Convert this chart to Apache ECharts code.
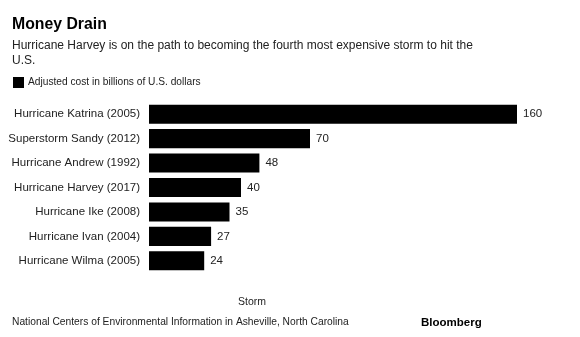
<!DOCTYPE html>
<html>
<head>
<meta charset="utf-8">
<script src="https://cdn.jsdelivr.net/npm/echarts@6/dist/echarts.min.js"></script>
<style>
html,body{margin:0;padding:0;background:#fff;}
#chart{width:580px;height:337px;}
</style>
</head>
<body>
<div id="chart"></div>
<script>
const categories = [
  "Hurricane Katrina (2005)",
  "Superstorm Sandy (2012)",
  "Hurricane Andrew (1992)",
  "Hurricane Harvey (2017)",
  "Hurricane Ike (2008)",
  "Hurricane Ivan (2004)",
  "Hurricane Wilma (2005)"
];
const costs = [160, 70, 48, 40, 35, 27, 24];
const seriesName = "Adjusted cost in billions of U.S. dollars";
const titleText = "Money Drain";
const subtitleText = "Hurricane Harvey is on the path to becoming the fourth most expensive storm to hit the\nU.S.";
const axisName = "Storm";
const sourceText = "National Centers of Environmental Information in Asheville, North Carolina";
const brandText = "Bloomberg";

const FONT = "'Liberation Sans', Arial, Helvetica, sans-serif";
const chart = echarts.init(document.getElementById('chart'), null, {renderer: 'canvas'});
chart.setOption({
  backgroundColor: '#fff',
  animation: false,
  textStyle: {fontFamily: FONT},
  title: [
    {text: titleText, left: 12, top: 17, padding: 0,
     textStyle: {fontFamily: FONT, fontSize: 15.8, fontWeight: 'bold', color: '#000'}},
    {text: subtitleText, left: 12, top: 38, padding: 0,
     textStyle: {fontFamily: FONT, fontSize: 12, fontWeight: 'normal', color: '#222', lineHeight: 15}},
    {text: axisName, left: 252, top: 297, textAlign: 'center', padding: 0,
     textStyle: {fontFamily: FONT, fontSize: 10.5, fontWeight: 'normal', color: '#222'}},
    {text: sourceText, left: 12, top: 317, padding: 0,
     textStyle: {fontFamily: FONT, fontSize: 10.25, fontWeight: 'normal', color: '#222'}},
    {text: brandText, left: 421, top: 317, padding: 0,
     textStyle: {fontFamily: FONT, fontSize: 11.5, fontWeight: 'bold', color: '#000'}}
  ],
  legend: {
    left: 13, top: 77, padding: 0,
    itemWidth: 11, itemHeight: 11, itemGap: 10,
    icon: 'rect',
    textStyle: {fontFamily: FONT, fontSize: 10.2, color: '#222', padding: [1,0,0,-1]},
    data: [seriesName]
  },
  grid: {left: 149, right: 63, top: 102, height: 171, containLabel: false},
  xAxis: {
    type: 'value', min: 0, max: 160, show: false
  },
  yAxis: {
    type: 'category', data: categories, inverse: true,
    axisLine: {show: false}, axisTick: {show: false},
    axisLabel: {fontFamily: FONT, fontSize: 11.5, color: '#222', margin: 9}
  },
  series: [{
    name: seriesName, type: 'bar', data: costs,
    barCategoryGap: '22%',
    itemStyle: {color: '#000'},
    label: {show: true, position: 'right', distance: 6,
            fontFamily: FONT, fontSize: 11.5, color: '#222'}
  }]
});
</script>
</body>
</html>
